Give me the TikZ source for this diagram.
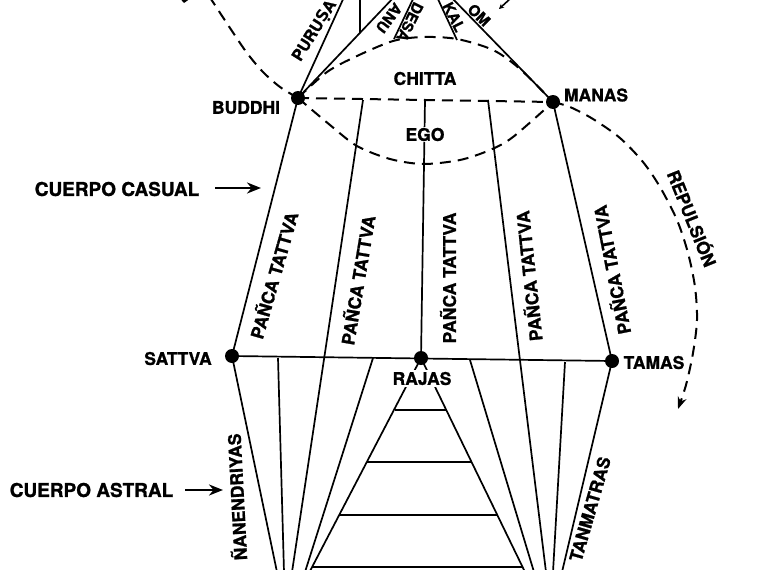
\documentclass[tikz,border=0pt]{standalone}
\usepackage{fontspec}
\setmainfont{TeX Gyre Heros}[BoldFeatures={FakeBold=1.2}]
\newfontfamily\dvfont{DejaVu Sans}
\usetikzlibrary{arrows.meta}
\begin{document}
\begin{tikzpicture}[x=1pt,y=-1pt,
  solidline/.style={line width=1.7pt},
  dashline/.style={line width=2pt, dash pattern=on 11pt off 7pt},
  dotnode/.style={circle, fill=black, inner sep=0pt, minimum size=14pt},
  lab/.style={font=\bfseries\fontsize{17.5}{20}\selectfont, inner sep=1pt},
  biglab/.style={font=\bfseries\fontsize{19}{22}\selectfont, inner sep=1pt},
  vlab/.style={font=\bfseries\fontsize{17.5}{20}\selectfont, inner sep=1pt},
  smlab/.style={font=\bfseries\fontsize{15}{18}\selectfont, inner sep=1pt},
  bigarrow/.style={line width=2.8pt, -{Stealth[length=14pt,width=11pt]}},
]
\useasboundingbox (0,0) rectangle (760,570);
\clip (0,0) rectangle (760,570);

% ---- main points
\node[dotnode] (buddhi) at (298,98) {};
\node[dotnode] (manas) at (553,102) {};
\node[dotnode] (sattva) at (232,356) {};
\node[dotnode] (rajas) at (421,358) {};
\node[dotnode] (tamas) at (612,361) {};

% ---- coordinates
\coordinate (purT) at (345,-5);
\coordinate (anuT) at (396,-5);
\coordinate (vT) at (359.7,-5);
\coordinate (vB) at (359.7,33);
\coordinate (desaB) at (394,39);
\coordinate (desaT) at (414,-3);
\coordinate (kalB) at (457,40);
\coordinate (kalT) at (437,-3);
\coordinate (omT) at (451,-3);
\coordinate (l2t) at (363,100);
\coordinate (l2b) at (292,572);
\coordinate (l3t) at (425,100);
\coordinate (l4t) at (488,100);
\coordinate (l4b) at (546,572);
\coordinate (sb) at (277,572);
\coordinate (a1t) at (278,358);
\coordinate (a1b) at (284,572);
\coordinate (a2t) at (373,358);
\coordinate (a2b) at (305,572);
\coordinate (a3t) at (470,360);
\coordinate (a3b) at (534,572);
\coordinate (a4t) at (565,362);
\coordinate (a4b) at (553,572);
\coordinate (tb) at (562,572);
\coordinate (pl) at (309.5,572);
\coordinate (pr) at (525,572);
\coordinate (r1l) at (394.5,410); \coordinate (r1r) at (446.6,410);
\coordinate (r2l) at (367.2,462); \coordinate (r2r) at (471.7,462);
\coordinate (r3l) at (339.4,515); \coordinate (r3r) at (497.3,515);
\coordinate (r4l) at (312.1,567); \coordinate (r4r) at (522.4,567);

% ---- dashed curves
\draw[dashline] plot[smooth] coordinates {(209,-4) (230,28) (247,53) (263,72) (280,87) (298,98)};
\draw[dashline] plot[smooth] coordinates {(298,98) (330,125) (357,146) (390,159) (423,164) (460,160) (490,150) (513,137) (553,102)};
\draw[dashline] plot[smooth] coordinates {(298,98) (327,72) (357,56) (393,41) (423,37) (457,39) (493,50) (520,69) (553,102)};
\draw[dashline, -{Stealth[length=12pt,width=9pt]}] plot[smooth] coordinates {(553,102) (570,107) (593,119) (620,138) (643,162) (660,187) (677,220) (688,253) (695,287) (697,320) (693,353) (686,385) (678,409)};
\draw[dashline] (buddhi.center) -- (manas.center);

% ---- top lines
\draw[solidline] (buddhi.center) -- (purT);
\draw[solidline] (buddhi.center) -- (anuT);
\draw[solidline] (vT) -- (vB);
\draw[solidline] (desaB) -- (desaT);
\draw[solidline] (kalB) -- (kalT);
\draw[solidline] (manas.center) -- (omT);

% ---- causal body lines
\draw[solidline] (buddhi.center) -- (sattva.center);
\draw[solidline] (manas.center) -- (tamas.center);
\draw[solidline] (sattva.center) -- (tamas.center);
\draw[solidline] (l2t) -- (l2b);
\draw[solidline] (l3t) -- (rajas.center);
\draw[solidline] (l4t) -- (l4b);

% ---- astral body lines
\draw[solidline] (sattva.center) -- (sb);
\draw[solidline] (a1t) -- (a1b);
\draw[solidline] (a2t) -- (a2b);
\draw[solidline] (a3t) -- (a3b);
\draw[solidline] (a4t) -- (a4b);
\draw[solidline] (tamas.center) -- (tb);
\draw[solidline] (rajas.center) -- (pl);
\draw[solidline] (rajas.center) -- (pr);
\draw[solidline] (r1l) -- (r1r);
\draw[solidline] (r2l) -- (r2r);
\draw[solidline] (r3l) -- (r3r);
\draw[solidline] (r4l) -- (r4r);

% ---- fragments at the top edge
\fill (176,-6) -- (191,-2) -- (184,3) -- cycle;
\draw[line width=1.6pt, -{Stealth[length=5pt,width=5pt]}] (511,-2) -- (499,9);

% ---- labels
\node[lab] (lbud) at (246,107.5) {BUDDHI};
\node[lab] (lman) at (596,95) {MANAS};
\node[lab] (lchi) at (425,78.5) {CHITTA};
\node[lab, fill=white] (lego) at (425,134.5) {EGO};
\node[lab] (lsat) at (178,358.5) {SATTVA};
\node[lab, fill=white, inner sep=2pt] (lraj) at (422,378.5) {RAJAS};
\node[lab] (ltam) at (654,362.5) {TAMAS};

\node[vlab, rotate=58, font=\bfseries\fontsize{16}{20}\selectfont] (lpur) at (315,31) {PURU{\dvfont\bfseries Ṣ}A};
\node[smlab, rotate=-127] (lanu) at (389,18) {ANU};
\node[smlab, rotate=-116] (ldesa) at (410,22) {DESA};
\node[smlab, rotate=-63] (lkal) at (454,17) {KAL};
\node[smlab, rotate=-44] (lom) at (479,15) {OM};

\node[vlab, rotate=74] (pt1) at (273,275) {PAÑCA TATTVA};
\node[vlab, rotate=80.5] (pt2) at (357,280) {PAÑCA TATTVA};
\node[vlab, rotate=90] (pt3) at (448,278) {PAÑCA TATTVA};
\node[vlab, rotate=96] (pt4) at (528,276) {PAÑCA TATTVA};
\node[vlab, rotate=101] (pt5) at (611,270) {PAÑCA TATTVA};

\node[lab, rotate=-68] (lrep) at (693,218) {REPULSIÓN};
\node[lab, rotate=74] (ltan) at (590,509) {TANMATRAS};
\node[lab, rotate=93] (ljna) at (236,497) {ÑANENDRIYAS};

\node[biglab] (lcc) at (117,189) {CUERPO CASUAL};
\coordinate (ccS) at (215,188);
\coordinate (ccT) at (261,188);
\draw[bigarrow] (ccS) -- (ccT);
\node[biglab] (lca) at (91.5,490) {CUERPO ASTRAL};
\coordinate (caS) at (185,490);
\coordinate (caT) at (223,490);
\draw[bigarrow] (caS) -- (caT);
\end{tikzpicture}
\end{document}
